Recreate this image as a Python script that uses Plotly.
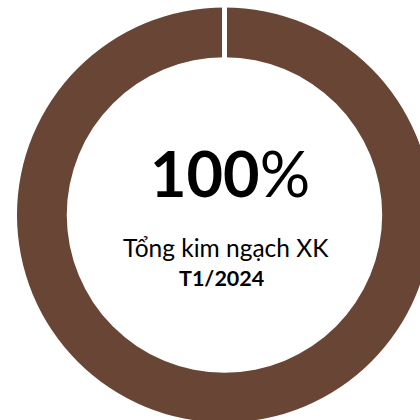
import plotly.graph_objects as go

# Share of total exports, January 2024
labels = ["Tổng kim ngạch XK", ""]
values = [100, 0]
share_text = "100"
caption = "Tổng kim ngạch XK"
period = "T1/2024"

BROWN = "#694535"
W, H = 440, 430

# donut geometry in pixels
cx, cy, R = 224.5, 215.0, 207.5

fig = go.Figure(
    go.Pie(
        labels=labels,
        values=values,
        hole=0.76,
        sort=False,
        direction="clockwise",
        rotation=0,
        marker=dict(colors=[BROWN, BROWN], line=dict(color="white", width=[0, 5])),
        textinfo="none",
        hoverinfo="skip",
        showlegend=False,
        domain=dict(x=[(cx - R) / W, (cx + R) / W], y=[1 - (cy + R) / H, 1 - (cy - R) / H]),
    )
)


def px(x, y):
    return x / W, 1 - y / H


annots = [
    (230, 172, f"<b>{share_text}</b>%", 63),
    (226, 247, caption, 24.5),
    (221, 278, f"<b>{period}</b>", 21.5),
]
for x, y, t, s in annots:
    ax, ay = px(x, y)
    fig.add_annotation(
        x=ax, y=ay, xref="paper", yref="paper", text=t, showarrow=False,
        xanchor="center", yanchor="middle",
        font=dict(family="Lato", size=s, color="black"),
    )

fig.update_layout(
    width=W, height=H,
    margin=dict(l=0, r=0, t=0, b=0),
    paper_bgcolor="white", plot_bgcolor="white",
)

fig.write_html(
    "out.html",
    post_script="document.body.style.overflow='hidden';document.documentElement.style.overflow='hidden';document.body.style.margin='0';",
)
